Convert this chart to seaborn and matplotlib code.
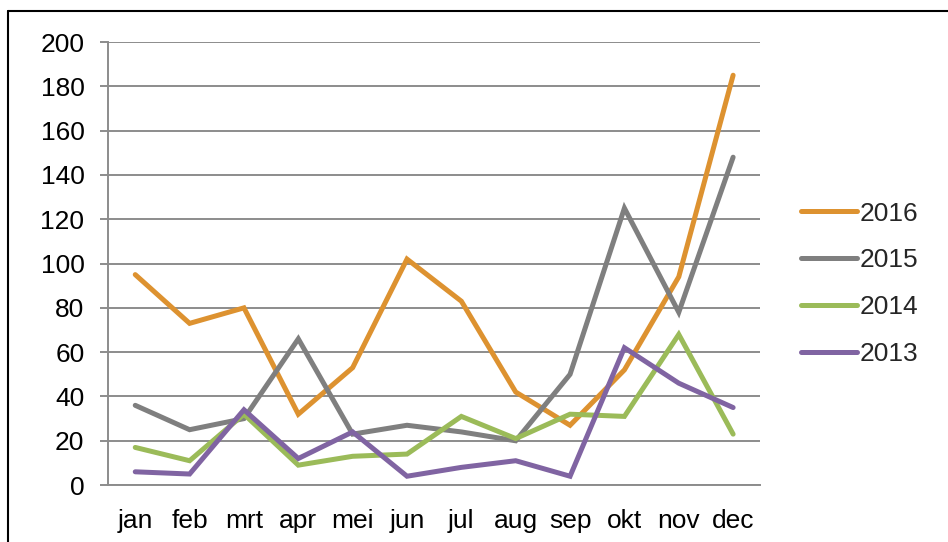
import matplotlib
matplotlib.use("Agg")
import matplotlib.pyplot as plt
from matplotlib.lines import Line2D
import numpy as np
import pandas as pd
import seaborn as sns

months = ["jan", "feb", "mrt", "apr", "mei", "jun", "jul", "aug", "sep", "okt", "nov", "dec"]
years = ["2016", "2015", "2014", "2013"]
v2016 = [95, 73, 80, 32, 53, 102, 83, 42, 27, 52, 94, 185]
v2015 = [36, 25, 30, 66, 23, 27, 24, 20, 50, 125, 78, 148]
v2014 = [17, 11, 32, 9, 13, 14, 31, 21, 32, 31, 68, 23]
v2013 = [6, 5, 34, 12, 24, 4, 8, 11, 4, 62, 46, 35]
colors = ["#DD9230", "#7F7F7F", "#9BBB59", "#8064A2"]

rows = []
for yr, vals in zip(years, [v2016, v2015, v2014, v2013]):
    for i, v in enumerate(vals):
        rows.append({"month": i, "value": v, "year": yr})
df = pd.DataFrame(rows)

sns.set_style("white")
plt.rcParams["font.family"] = ["Liberation Sans", "DejaVu Sans"]
FS = 19

fig = plt.figure(figsize=(9.48, 5.42), dpi=100)
ax = fig.add_axes([0.114, 0.105, 0.688, 0.8175])

sns.lineplot(data=df, x="month", y="value", hue="year", hue_order=years,
             palette=colors, linewidth=3.6, ax=ax, legend=False,
             solid_capstyle="round", solid_joinstyle="miter")

ax.set_xlim(-0.5, 11.5)
ax.set_ylim(0, 200)
ax.set_yticks(range(0, 201, 20))
ax.set_xticks(range(12))
ax.set_xticklabels(months)
ax.set_xticks(np.arange(-0.5, 12, 1), minor=True)
ax.tick_params(axis="x", which="major", length=0, labelsize=FS, pad=17, colors="black")
ax.tick_params(axis="x", which="minor", length=6, width=1.4, color="#8C8C8C", direction="out")
ax.tick_params(axis="y", length=6, width=1.4, color="#8C8C8C", labelsize=FS, pad=11,
               direction="out", left=True, labelcolor="black")
ax.set_xlabel("")
ax.set_ylabel("")
ax.grid(axis="y", color="#8C8C8C", linewidth=1.4)
ax.set_axisbelow(True)
for s in ["top", "right"]:
    ax.spines[s].set_visible(False)
for s in ["left", "bottom"]:
    ax.spines[s].set_color("#8C8C8C")
    ax.spines[s].set_linewidth(1.4)

handles = [Line2D([], [], color=c, linewidth=3.6, solid_capstyle="round") for c in colors]
fig.legend(handles, years, loc="upper left", bbox_to_anchor=(0.820, 0.672),
           frameon=False, fontsize=FS, handlelength=2.1, handletextpad=0.12,
           labelspacing=0.87)

# outer frame lines (top and left)
fig.add_artist(Line2D([0.0085, 1.0], [0.98, 0.98], color="black", linewidth=1.5,
                      transform=fig.transFigure))
fig.add_artist(Line2D([0.0085, 0.0085], [0.0, 0.98], color="black", linewidth=1.5,
                      transform=fig.transFigure))

fig.savefig("out.png", dpi=100)
